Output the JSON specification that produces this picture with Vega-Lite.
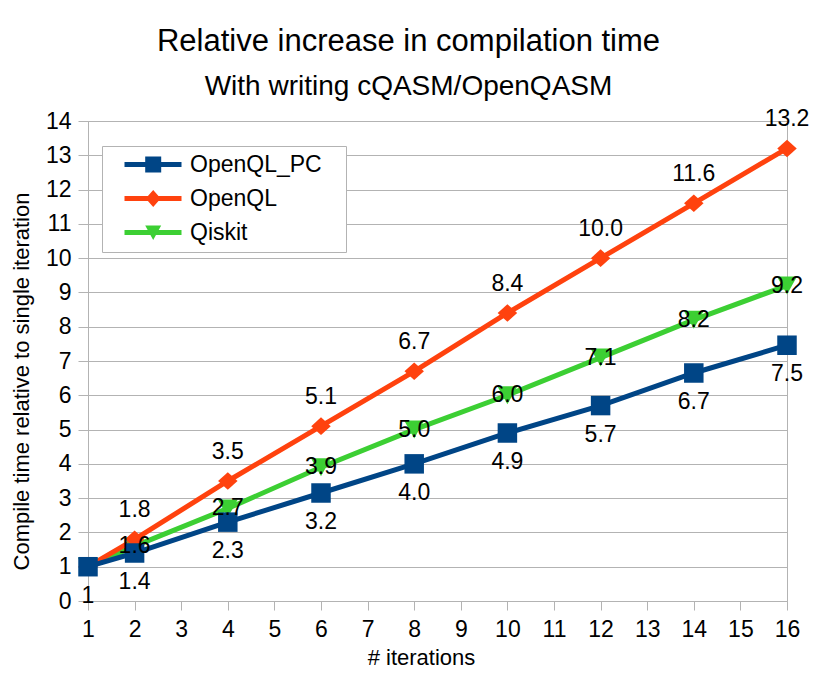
{
  "$schema": "https://vega.github.io/schema/vega-lite/v6.json",
  "width": 699,
  "height": 480,
  "autosize": {"type": "none"},
  "padding": {"left": 88, "top": 121, "right": 43, "bottom": 76},
  "background": "white",
  "title": {
    "text": "Relative increase in compilation time",
    "subtitle": "With writing cQASM/OpenQASM",
    "anchor": "middle",
    "dx": -29,
    "offset": 6,
    "subtitlePadding": 15
  },
  "data": {
    "values": [
      {"series": "Qiskit", "iter": 1, "value": 1.0, "label": ""},
      {"series": "Qiskit", "iter": 2, "value": 1.6, "label": "1.6"},
      {"series": "Qiskit", "iter": 4, "value": 2.7, "label": "2.7"},
      {"series": "Qiskit", "iter": 6, "value": 3.9, "label": "3.9"},
      {"series": "Qiskit", "iter": 8, "value": 5.0, "label": "5.0"},
      {"series": "Qiskit", "iter": 10, "value": 6.0, "label": "6.0"},
      {"series": "Qiskit", "iter": 12, "value": 7.1, "label": "7.1"},
      {"series": "Qiskit", "iter": 14, "value": 8.2, "label": "8.2"},
      {"series": "Qiskit", "iter": 16, "value": 9.2, "label": "9.2"},
      {"series": "OpenQL", "iter": 1, "value": 1.0, "label": ""},
      {"series": "OpenQL", "iter": 2, "value": 1.8, "label": "1.8"},
      {"series": "OpenQL", "iter": 4, "value": 3.5, "label": "3.5"},
      {"series": "OpenQL", "iter": 6, "value": 5.1, "label": "5.1"},
      {"series": "OpenQL", "iter": 8, "value": 6.7, "label": "6.7"},
      {"series": "OpenQL", "iter": 10, "value": 8.4, "label": "8.4"},
      {"series": "OpenQL", "iter": 12, "value": 10.0, "label": "10.0"},
      {"series": "OpenQL", "iter": 14, "value": 11.6, "label": "11.6"},
      {"series": "OpenQL", "iter": 16, "value": 13.2, "label": "13.2"},
      {"series": "OpenQL_PC", "iter": 1, "value": 1.0, "label": "1"},
      {"series": "OpenQL_PC", "iter": 2, "value": 1.4, "label": "1.4"},
      {"series": "OpenQL_PC", "iter": 4, "value": 2.3, "label": "2.3"},
      {"series": "OpenQL_PC", "iter": 6, "value": 3.15, "label": "3.2"},
      {"series": "OpenQL_PC", "iter": 8, "value": 4.0, "label": "4.0"},
      {"series": "OpenQL_PC", "iter": 10, "value": 4.9, "label": "4.9"},
      {"series": "OpenQL_PC", "iter": 12, "value": 5.7, "label": "5.7"},
      {"series": "OpenQL_PC", "iter": 14, "value": 6.65, "label": "6.7"},
      {"series": "OpenQL_PC", "iter": 16, "value": 7.46, "label": "7.5"}
    ]
  },
  "encoding": {
    "x": {
      "field": "iter",
      "type": "quantitative",
      "title": "# iterations",
      "scale": {"domain": [1, 16], "nice": false, "zero": false},
      "axis": {
        "values": [1, 2, 3, 4, 5, 6, 7, 8, 9, 10, 11, 12, 13, 14, 15, 16],
        "grid": false,
        "labelFlush": false,
        "tickSize": 9,
        "labelPadding": 8,
        "titlePadding": 6,
        "titleX": 333
      }
    },
    "y": {
      "field": "value",
      "type": "quantitative",
      "title": "Compile time relative to single iteration",
      "scale": {"domain": [0, 14], "nice": false},
      "axis": {
        "values": [0, 1, 2, 3, 4, 5, 6, 7, 8, 9, 10, 11, 12, 13, 14],
        "grid": true,
        "labelFlush": false,
        "tickSize": 10,
        "labelPadding": 7,
        "titlePadding": 12,
        "titleY": 260
      }
    }
  },
  "layer": [
    {
      "mark": {"type": "line", "strokeWidth": 5},
      "encoding": {
        "stroke": {
          "field": "series",
          "type": "nominal",
          "scale": {
            "domain": ["Qiskit", "OpenQL", "OpenQL_PC"],
            "range": ["#3ccf33", "#ff420e", "#004586"]
          },
          "legend": null
        }
      }
    },
    {
      "transform": [{"filter": "datum.series === 'Qiskit'"}],
      "mark": {"type": "point", "filled": true, "opacity": 1, "color": "#3ccf33", "size": 400, "shape": "M-1,-0.9H1L0,0.9Z"}
    },
    {
      "transform": [{"filter": "datum.series === 'OpenQL'"}],
      "mark": {"type": "point", "filled": true, "opacity": 1, "color": "#ff420e", "size": 380, "shape": "M0,-0.9L1,0L0,0.9L-1,0Z"}
    },
    {
      "transform": [{"filter": "datum.series === 'OpenQL_PC'"}],
      "mark": {"type": "point", "filled": true, "opacity": 1, "color": "#004586", "size": 380, "shape": "M-1,-1H1V1H-1Z"}
    },
    {
      "mark": {"type": "point", "filled": true, "opacity": 0, "size": 400},
      "encoding": {
        "color": {
          "field": "series",
          "type": "nominal",
          "scale": {
            "domain": ["OpenQL_PC", "OpenQL", "Qiskit"],
            "range": ["#004586", "#ff420e", "#3ccf33"]
          },
          "legend": {
            "orient": "none",
            "legendX": 14,
            "legendY": 25,
            "padding": 7,
            "strokeColor": "#b3b3b3",
            "fillColor": "white",
            "symbolOpacity": 1,
            "symbolSize": 400,
            "symbolStrokeWidth": 0,
            "labelFontSize": 23,
            "labelOffset": 58,
            "rowPadding": 10,
            "labelExpr": "datum.label + '\u2800'"
          }
        },
        "shape": {
          "field": "series",
          "type": "nominal",
          "scale": {
            "domain": ["OpenQL_PC", "OpenQL", "Qiskit"],
            "range": [
              "M0.4,-0.25H6.1V0.25H0.4Z M2.47,-0.8H4.07V0.8H2.47Z",
              "M0.4,-0.25H6.1V0.25H0.4Z M3.27,-0.85L4.02,0L3.27,0.85L2.52,0Z",
              "M0.4,-0.25H6.1V0.25H0.4Z M2.47,-0.7H4.07L3.27,0.75Z"
            ]
          },
          "legend": {
            "orient": "none",
            "legendX": 14,
            "legendY": 25,
            "padding": 7,
            "strokeColor": "#b3b3b3",
            "fillColor": "white",
            "symbolOpacity": 1,
            "symbolSize": 400,
            "symbolStrokeWidth": 0,
            "labelFontSize": 23,
            "labelOffset": 58,
            "rowPadding": 10,
            "labelExpr": "datum.label + '\u2800'"
          }
        }
      }
    },
    {
      "transform": [{"filter": "datum.series === 'OpenQL'"}],
      "mark": {"type": "text", "fontSize": 23, "baseline": "middle", "dy": -29, "color": "black"},
      "encoding": {"text": {"field": "label"}}
    },
    {
      "transform": [{"filter": "datum.series === 'OpenQL_PC'"}],
      "mark": {"type": "text", "fontSize": 23, "baseline": "middle", "dy": 29, "color": "black"},
      "encoding": {"text": {"field": "label"}}
    },
    {
      "transform": [{"filter": "datum.series === 'Qiskit'"}],
      "mark": {"type": "text", "fontSize": 23, "baseline": "middle", "dy": 0, "color": "black"},
      "encoding": {"text": {"field": "label"}}
    }
  ],
  "config": {
    "font": "Liberation Sans",
    "view": {"stroke": "#b3b3b3", "strokeWidth": 1},
    "title": {
      "fontSize": 31,
      "fontWeight": "normal",
      "color": "black",
      "subtitleFontSize": 28,
      "subtitleColor": "black"
    },
    "axis": {
      "domainColor": "#b3b3b3",
      "tickColor": "#b3b3b3",
      "gridColor": "#b3b3b3",
      "gridOpacity": 1,
      "labelFontSize": 23,
      "labelColor": "black",
      "titleFontSize": 22,
      "titleFontWeight": "normal",
      "titleColor": "black"
    },
    "legend": {
      "labelColor": "black",
      "labelFont": "Liberation Sans",
      "title": null
    }
  }
}
